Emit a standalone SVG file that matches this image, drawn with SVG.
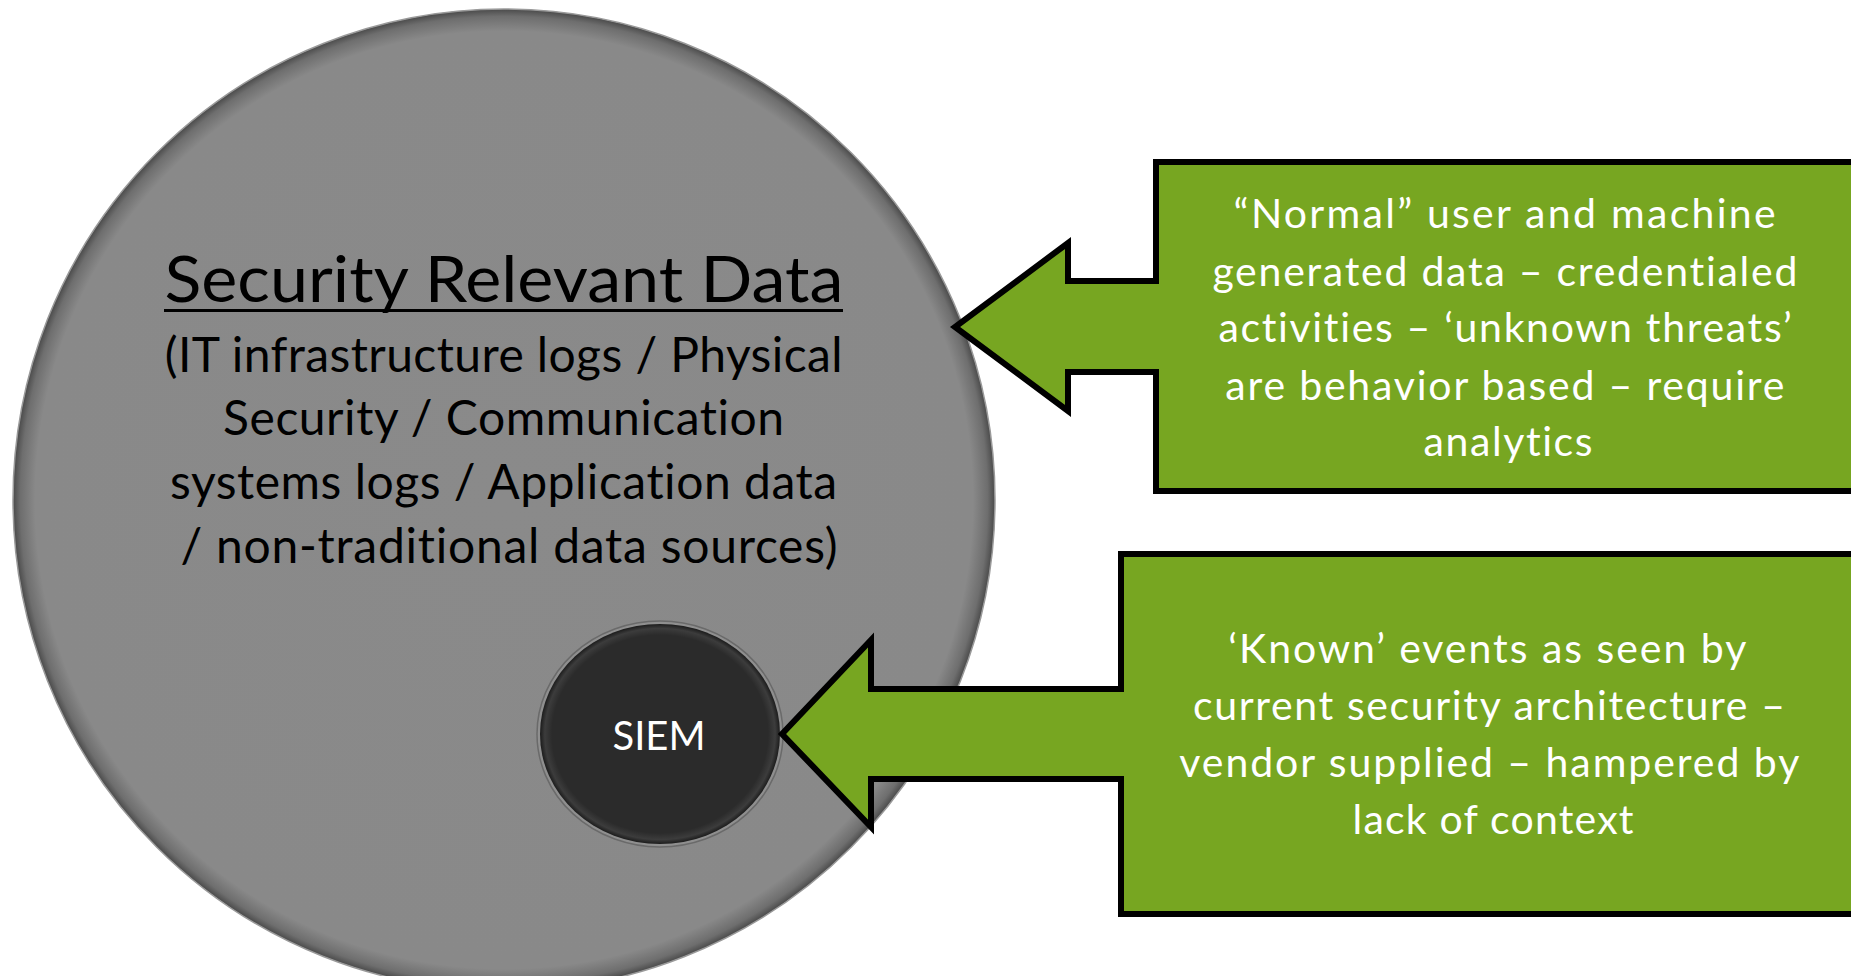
<svg xmlns="http://www.w3.org/2000/svg" width="1851" height="976" viewBox="0 0 1851 976">
  <defs>
    <radialGradient id="discShade" cx="0.5" cy="0.5" r="0.5">
      <stop offset="0" stop-color="#8a8a8a"/>
      <stop offset="0.955" stop-color="#898989"/>
      <stop offset="0.985" stop-color="#6e6e6e"/>
      <stop offset="1" stop-color="#4a4a4a"/>
    </radialGradient>
    <radialGradient id="siemShade" cx="0.5" cy="0.5" r="0.5">
      <stop offset="0" stop-color="#2b2b2b"/>
      <stop offset="0.9" stop-color="#2b2b2b"/>
      <stop offset="0.96" stop-color="#3c3c3c"/>
      <stop offset="1" stop-color="#1c1c1c"/>
    </radialGradient>
    <style>
      text { font-variant-ligatures: none; }
      .dark { font-family: Lato, "Liberation Sans", sans-serif; fill: #000; text-anchor: middle; }
      .light { font-family: Lato, "Liberation Sans", sans-serif; fill: #fff; text-anchor: middle; }
      .callout { fill: #77a621; stroke: #000; stroke-width: 6; stroke-linejoin: miter; }
    </style>
  </defs>

  <rect width="1851" height="976" fill="#fff"/>

  <!-- large data disc -->
  <g id="security-data">
    <circle cx="504" cy="500" r="491" fill="url(#discShade)" stroke="#9a9a9a" stroke-width="1.5"/>
    <text class="dark" x="504" y="302" font-size="63" textLength="679" lengthAdjust="spacingAndGlyphs">Security Relevant Data</text>
    <rect x="164" y="309" width="679" height="3" fill="#000"/>
    <text class="dark" font-size="48" lengthAdjust="spacingAndGlyphs">
      <tspan x="510" y="372" textLength="678">(IT infrastructure logs / Physical</tspan>
      <tspan x="510" y="435" textLength="561">Security / Communication</tspan>
      <tspan x="510" y="499" textLength="667">systems logs / Application data</tspan>
      <tspan x="509" y="563" textLength="657">/ non-traditional data sources)</tspan>
    </text>
  </g>

  <!-- SIEM disc -->
  <g id="siem">
    <ellipse cx="660" cy="734" rx="123" ry="113" fill="#8f8f8f" stroke="#6a6a6a" stroke-width="1.5"/>
    <ellipse cx="660" cy="734" rx="120" ry="110" fill="url(#siemShade)"/>
    <text class="light" x="659" y="750" font-size="41" textLength="93" lengthAdjust="spacingAndGlyphs">SIEM</text>
  </g>

  <!-- callout pointing at the large disc -->
  <g id="callout-unknown">
    <path class="callout" d="M1156 162 L1860 162 L1860 491 L1156 491 L1156 372 L1068 372 L1068 411 L955 327 L1068 243 L1068 281 L1156 281 Z"/>
    <text class="light" font-size="41" lengthAdjust="spacingAndGlyphs">
      <tspan x="1511" y="228" textLength="542">“Normal” user and machine</tspan>
      <tspan x="1511" y="286" textLength="585">generated data – credentialed</tspan>
      <tspan x="1511" y="342" textLength="573">activities – ‘unknown threats’</tspan>
      <tspan x="1511" y="400" textLength="559">are behavior based – require</tspan>
      <tspan x="1508" y="456" textLength="169">analytics</tspan>
    </text>
  </g>

  <!-- callout pointing at the SIEM disc -->
  <g id="callout-known">
    <path class="callout" d="M1121 554 L1860 554 L1860 914 L1121 914 L1121 779 L871 779 L871 827 L782 734 L871 640 L871 689 L1121 689 Z"/>
    <text class="light" font-size="41" lengthAdjust="spacingAndGlyphs">
      <tspan x="1493" y="663" textLength="517">‘Known’ events as seen by</tspan>
      <tspan x="1495" y="720" textLength="592">current security architecture –</tspan>
      <tspan x="1495" y="777" textLength="619">vendor supplied – hampered by</tspan>
      <tspan x="1493" y="834" textLength="281">lack of context</tspan>
    </text>
  </g>

  <g id="connectors"/>
</svg>
